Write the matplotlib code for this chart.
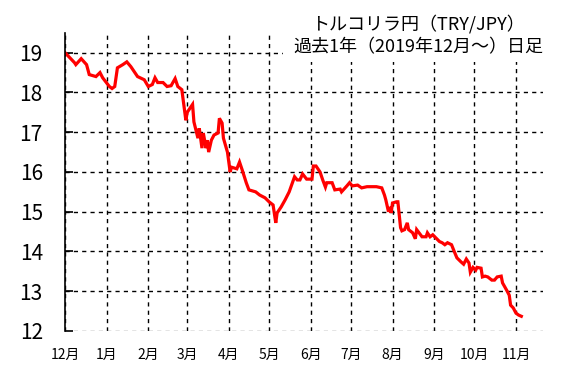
import matplotlib
matplotlib.use('Agg')
import matplotlib.pyplot as plt
import matplotlib.dates as mdates
from matplotlib.patches import Rectangle
import pandas as pd

plt.rcParams['font.family'] = ['Noto Sans CJK JP', 'DejaVu Sans']

# daily TRY/JPY close
dates = ['2019-12-01', '2019-12-08', '2019-12-09', '2019-12-13', '2019-12-17', '2019-12-19',
         '2019-12-24', '2019-12-27', '2019-12-29', '2020-01-03', '2020-01-05', '2020-01-07',
         '2020-01-09', '2020-01-13', '2020-01-16', '2020-01-19', '2020-01-24', '2020-01-29',
         '2020-02-01', '2020-02-04', '2020-02-06', '2020-02-08', '2020-02-12', '2020-02-15',
         '2020-02-18', '2020-02-21', '2020-02-23', '2020-02-26', '2020-02-29', '2020-03-01',
         '2020-03-05', '2020-03-06', '2020-03-09', '2020-03-10', '2020-03-12', '2020-03-13',
         '2020-03-15', '2020-03-16', '2020-03-17', '2020-03-19', '2020-03-21', '2020-03-24',
         '2020-03-25', '2020-03-27', '2020-03-28', '2020-03-31', '2020-04-01', '2020-04-02',
         '2020-04-03', '2020-04-07', '2020-04-09', '2020-04-11', '2020-04-14', '2020-04-16',
         '2020-04-21', '2020-04-24', '2020-04-28', '2020-05-01', '2020-05-04', '2020-05-06',
         '2020-05-07', '2020-05-10', '2020-05-13', '2020-05-16', '2020-05-20', '2020-05-22',
         '2020-05-24', '2020-05-26', '2020-05-29', '2020-05-31', '2020-06-02', '2020-06-03',
         '2020-06-05', '2020-06-08', '2020-06-10', '2020-06-12', '2020-06-13', '2020-06-17',
         '2020-06-19', '2020-06-23', '2020-06-24', '2020-06-28', '2020-06-30', '2020-07-02',
         '2020-07-06', '2020-07-09', '2020-07-13', '2020-07-16', '2020-07-20', '2020-07-24',
         '2020-07-26', '2020-07-27', '2020-07-29', '2020-07-30', '2020-07-31', '2020-08-01',
         '2020-08-04', '2020-08-05', '2020-08-07', '2020-08-08', '2020-08-10', '2020-08-12',
         '2020-08-13', '2020-08-16', '2020-08-18', '2020-08-19', '2020-08-23', '2020-08-26',
         '2020-08-27', '2020-08-29', '2020-08-31', '2020-09-03', '2020-09-05', '2020-09-07',
         '2020-09-09', '2020-09-11', '2020-09-14', '2020-09-16', '2020-09-18', '2020-09-21',
         '2020-09-23', '2020-09-25', '2020-09-27', '2020-09-28', '2020-09-30', '2020-10-02',
         '2020-10-03', '2020-10-06', '2020-10-07', '2020-10-09', '2020-10-11', '2020-10-14',
         '2020-10-16', '2020-10-18', '2020-10-21', '2020-10-22', '2020-10-25', '2020-10-27',
         '2020-10-28', '2020-10-30', '2020-11-01', '2020-11-03', '2020-11-05']
rates = [19.00, 18.75, 18.70, 18.85, 18.70, 18.45,
         18.40, 18.50, 18.37, 18.15, 18.10, 18.15,
         18.62, 18.70, 18.77, 18.65, 18.40, 18.32,
         18.15, 18.20, 18.37, 18.25, 18.25, 18.15,
         18.17, 18.35, 18.15, 18.07, 17.30, 17.50,
         17.70, 17.26, 16.85, 17.10, 16.60, 16.98,
         16.60, 16.80, 16.50, 16.80, 16.93, 16.98,
         17.35, 17.23, 16.85, 16.50, 16.25, 16.00,
         16.12, 16.08, 16.25, 16.05, 15.73, 15.55,
         15.50, 15.42, 15.35, 15.25, 15.17, 14.72,
         14.97, 15.12, 15.30, 15.50, 15.88, 15.80,
         15.80, 15.95, 15.82, 15.82, 15.82, 16.15,
         16.15, 16.00, 15.80, 15.62, 15.73, 15.73,
         15.55, 15.57, 15.50, 15.65, 15.73, 15.65,
         15.67, 15.60, 15.63, 15.63, 15.63, 15.60,
         15.42, 15.30, 15.00, 15.12, 14.97, 15.22,
         15.25, 15.25, 14.60, 14.52, 14.55, 14.72,
         14.55, 14.47, 14.32, 14.55, 14.37, 14.37,
         14.47, 14.37, 14.42, 14.32, 14.25, 14.22,
         14.17, 14.22, 14.17, 14.00, 13.84, 13.74,
         13.68, 13.81, 13.71, 13.48, 13.60, 13.53,
         13.60, 13.58, 13.36, 13.38, 13.36, 13.28,
         13.28, 13.36, 13.38, 13.21, 13.03, 12.90,
         12.65, 12.58, 12.45, 12.40, 12.37]
yticks = [12, 13, 14, 15, 16, 17, 18, 19]
title_lines = ['トルコリラ円（TRY/JPY）', '過去1年（2019年12月～）日足']

x = pd.to_datetime(dates)

fig = plt.figure(figsize=(5.66, 3.69), dpi=100)
ax = fig.add_axes([0.115, 0.103, 0.844, 0.808])

ax.plot(x, rates, color='#ff0000', lw=2.3, solid_joinstyle='miter')

ax.set_xlim(pd.Timestamp('2019-12-01'), pd.Timestamp('2020-11-21'))
ax.set_ylim(12, 19.5)
ax.set_yticks(yticks)
ax.xaxis.set_major_locator(mdates.MonthLocator())
ax.xaxis.set_major_formatter(plt.FuncFormatter(lambda v, p: f'{mdates.num2date(v).month}月'))

ax.grid(True, color='black', ls=(0, (3, 3)), lw=1)
for s in ['top', 'right', 'bottom']:
    ax.spines[s].set_visible(False)
ax.spines['left'].set_linewidth(1.2)
ax.tick_params(axis='y', direction='in', length=6, width=1.2, pad=16, labelsize=15)
ax.tick_params(axis='x', length=0, pad=12, labelsize=10)
ax.get_ygridlines()[0].set_color('#777777')

# white patch behind the title hides the grid there
fig.add_artist(Rectangle((0.5, 0.832), 0.5, 0.168, transform=fig.transFigure,
                         facecolor='white', edgecolor='none', zorder=5))
fig.text(0.739, 0.936, title_lines[0], ha='center', va='center', fontsize=13, zorder=6)
fig.text(0.739, 0.871, title_lines[1], ha='center', va='center', fontsize=13, zorder=6)

fig.savefig('out.png', dpi=100)
